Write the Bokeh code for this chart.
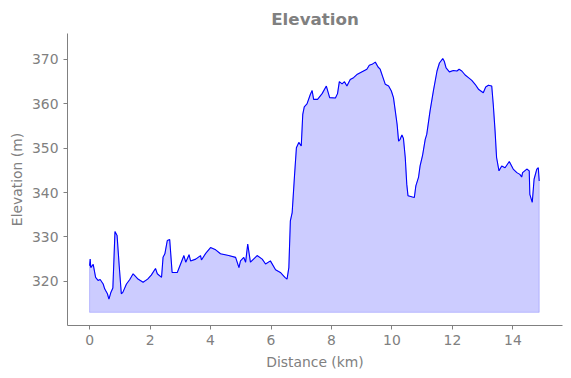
from bokeh.plotting import figure
from bokeh.models import FixedTicker, Range1d
from bokeh.embed import file_html
from bokeh.resources import INLINE

# ---- data ----
distance_km = [0.0, 0.02, 0.04, 0.12, 0.2, 0.28, 0.35, 0.45, 0.5, 0.59, 0.64, 0.7, 0.77, 0.84, 0.91,
               0.98, 1.05, 1.1, 1.22, 1.33, 1.44, 1.55, 1.6, 1.77, 1.92, 2.04, 2.18, 2.24, 2.38,
               2.43, 2.49, 2.57, 2.65, 2.73, 2.9, 3.01, 3.12, 3.18, 3.29, 3.34, 3.51, 3.67, 3.7,
               3.84, 4.0, 4.17, 4.33, 4.6, 4.83, 4.94, 4.99, 5.1, 5.16, 5.23, 5.32, 5.54, 5.71,
               5.82, 5.98, 6.15, 6.31, 6.46, 6.53, 6.59, 6.64, 6.7, 6.78, 6.84, 6.92, 7.0, 7.05,
               7.1, 7.19, 7.3, 7.36, 7.41, 7.54, 7.69, 7.83, 7.94, 8.13, 8.2, 8.26, 8.35, 8.43,
               8.51, 8.62, 8.73, 8.84, 8.95, 9.06, 9.17, 9.25, 9.34, 9.45, 9.54, 9.61, 9.69, 9.78,
               9.89, 9.98, 10.05, 10.11, 10.17, 10.22, 10.27, 10.33, 10.38, 10.44, 10.49, 10.53,
               10.68, 10.74, 10.79, 10.88, 10.93, 11.01, 11.1, 11.15, 11.26, 11.37, 11.49, 11.57,
               11.68, 11.73, 11.79, 11.9, 12.03, 12.15, 12.22, 12.31, 12.42, 12.53, 12.64, 12.75,
               12.86, 12.94, 13.02, 13.1, 13.19, 13.3, 13.35, 13.41, 13.46, 13.54, 13.63, 13.74,
               13.88, 14.01, 14.13, 14.23, 14.29, 14.32, 14.46, 14.54, 14.56, 14.64, 14.7, 14.79,
               14.84, 14.87]
elevation_m = [323.5, 325.0, 323.1, 323.8, 320.9, 320.2, 320.4, 319.4, 318.3, 317.2, 316.0, 317.4,
               318.5, 331.2, 330.3, 323.5, 317.2, 317.5, 319.4, 320.4, 321.7, 320.9, 320.5, 319.8,
               320.5, 321.4, 322.9, 321.7, 320.9, 325.4, 326.2, 329.2, 329.4, 322.0, 322.0, 323.9,
               325.8, 324.3, 326.0, 324.6, 325.0, 325.8, 324.8, 326.3, 327.6, 327.1, 326.2, 325.8,
               325.4, 323.1, 324.6, 325.4, 324.3, 328.4, 324.3, 325.8, 325.0, 323.9, 324.6, 322.6,
               322.0, 320.9, 320.5, 323.1, 333.6, 335.5, 344.1, 350.1, 351.3, 350.5, 357.6, 359.3,
               360.0, 362.1, 363.0, 361.0, 361.0, 362.3, 364.0, 361.4, 361.3, 362.3, 365.0, 364.5,
               365.0, 364.0, 365.5, 365.9, 366.6, 367.0, 367.4, 367.8, 368.7, 368.9, 369.4, 368.3,
               367.8, 366.2, 364.4, 364.0, 362.9, 361.4, 358.4, 355.4, 351.6, 352.0, 353.0, 352.2,
               347.9, 341.9, 339.3, 339.0, 338.9, 341.5, 343.5, 346.0, 348.3, 352.0, 353.1, 358.4,
               362.9, 367.4, 369.2, 370.2, 369.6, 368.1, 367.2, 367.5, 367.4, 367.8, 367.4, 366.5,
               365.9, 365.3, 364.4, 363.3, 362.9, 362.5, 363.8, 364.2, 364.0, 359.9, 353.9, 347.9,
               344.9, 346.0, 345.6, 347.0, 345.3, 344.5, 344.1, 343.5, 344.5, 345.3, 344.9, 339.6,
               337.8, 343.0, 345.3, 345.6, 342.6]
fill_base_m = 313.0
x_ticks = [0, 2, 4, 6, 8, 10, 12, 14]
y_ticks = [320, 330, 340, 350, 360, 370]

GRAY = "#808080"
FONT = "DejaVu Sans"

p = figure(width=571, height=378, output_backend="svg", toolbar_location=None,
           x_range=Range1d(-0.73, 15.64), y_range=Range1d(310.04, 375.85),
           min_border_left=67, min_border_right=9, min_border_top=33, min_border_bottom=53)

p.title.text = "Elevation"
p.title.align = "center"
p.title.text_font = FONT
p.title.text_font_size = "16.7px"
p.title.text_font_style = "bold"
p.title.text_color = GRAY

# filled area
xs = distance_km + [distance_km[-1], distance_km[0]]
ys = elevation_m + [fill_base_m, fill_base_m]
p.patch(xs, ys, fill_color="blue", fill_alpha=0.2, line_color="blue", line_alpha=0.2, line_width=1)
p.line(distance_km, elevation_m, line_color="blue", line_width=1.1)

p.outline_line_color = None
p.xgrid.grid_line_color = None
p.ygrid.grid_line_color = None
p.background_fill_color = "white"
p.border_fill_color = "white"

p.xaxis.ticker = FixedTicker(ticks=x_ticks)
p.yaxis.ticker = FixedTicker(ticks=y_ticks)
p.xaxis.axis_label = "Distance (km)"
p.yaxis.axis_label = "Elevation (m)"

for ax in (p.xaxis, p.yaxis):
    ax.axis_line_color = GRAY
    ax.major_tick_line_color = GRAY
    ax.minor_tick_line_color = None
    ax.major_tick_out = 4
    ax.major_tick_in = 0
    ax.major_label_text_color = GRAY
    ax.major_label_text_font = FONT
    ax.major_label_text_font_size = "13.9px"
    ax.axis_label_text_color = GRAY
    ax.axis_label_text_font = FONT
    ax.axis_label_text_font_size = "13.9px"
    ax.axis_label_text_font_style = "normal"
    ax.major_label_standoff = 5
p.xaxis.axis_label_standoff = 6
p.yaxis.axis_label_standoff = 4

open("out.html", "w").write(file_html(p, INLINE))
